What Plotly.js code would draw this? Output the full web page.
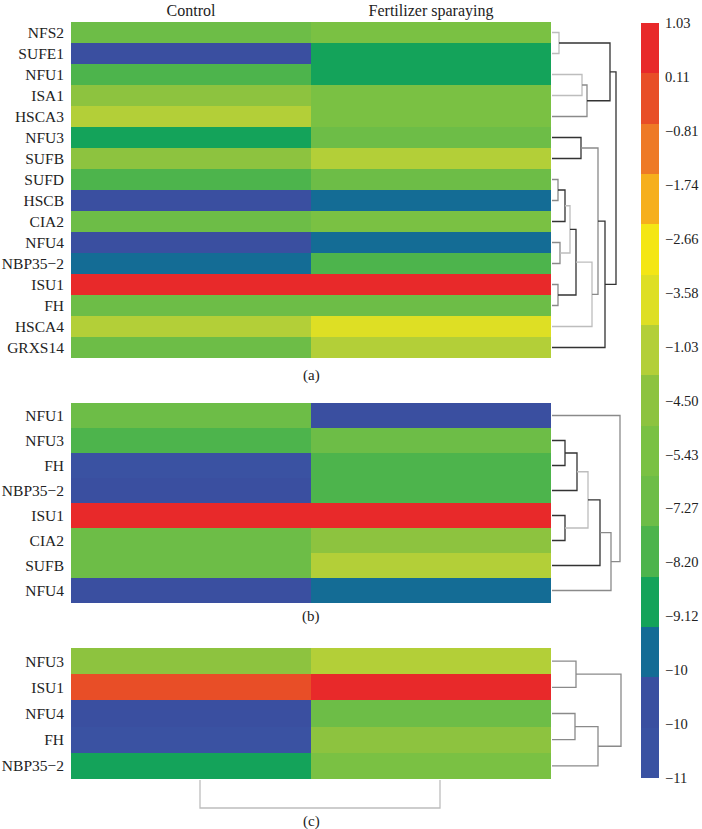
<!DOCTYPE html>
<html>
<head>
<meta charset="utf-8">
<script src="https://cdn.plot.ly/plotly-3.0.1.min.js"></script>
<style>html,body{margin:0;padding:0;background:#fff;}#chart{width:702px;height:829px;}</style>
</head>
<body>
<div id="chart"></div>
<script>
// ---------- DATA ----------
const columns = ['Control', 'Fertilizer sparaying'];

// colour level of each cell (0 = lowest band "−11", 14 = highest band "1.03")
const genesA = ['NFS2','SUFE1','NFU1','ISA1','HSCA3','NFU3','SUFB','SUFD','HSCB','CIA2','NFU4','NBP35−2','ISU1','FH','HSCA4','GRXS14'];
const controlA = [5, 1, 4, 7, 8, 3, 7, 4, 1, 5, 1, 2, 14, 5, 8, 5];
const fertA    = [6, 3, 3, 6, 6, 5, 8, 5, 2, 6, 2, 4, 14, 5, 9, 8];

const genesB = ['NFU1','NFU3','FH','NBP35−2','ISU1','CIA2','SUFB','NFU4'];
const controlB = [5, 4, 0, 1, 14, 5, 5, 1];
const fertB    = [1, 5, 4, 4, 14, 7, 8, 2];

const genesC = ['NFU3','ISU1','NFU4','FH','NBP35−2'];
const controlC = [7, 13, 1, 0, 3];
const fertC    = [8, 14, 5, 7, 6];

// dendrogram merges: [child1, child2, height, tone]; indices < n are leaves, n+k is merge k
const mergesA = [
  [0, 1, 7, 'l'],     // 16 NFS2+SUFE1
  [2, 3, 30, 'l'],    // 17 NFU1+ISA1
  [17, 4, 35, 'm'],   // 18 +HSCA3
  [16, 18, 58, 'd'],  // 19
  [5, 6, 29, 'd'],    // 20 NFU3+SUFB
  [7, 8, 6, 'm'],     // 21 SUFD+HSCB
  [21, 9, 13, 'd'],   // 22 +CIA2
  [10, 11, 8, 'm'],   // 23 NFU4+NBP35-2
  [22, 23, 18, 'l'],  // 24
  [12, 13, 6, 'm'],   // 25 ISU1+FH
  [24, 25, 24, 'd'],  // 26
  [26, 14, 40, 'l'],  // 27 +HSCA4
  [20, 27, 46, 'm'],  // 28
  [28, 15, 53, 'd'],  // 29 +GRXS14
  [19, 29, 64, 'd']   // 30 root
];
const mergesB = [
  [1, 2, 13, 'd'],    // 8 NFU3+FH
  [8, 3, 25, 'd'],    // 9 +NBP35-2
  [4, 5, 13, 'd'],    // 10 ISU1+CIA2
  [9, 10, 36, 'l'],   // 11
  [11, 6, 48, 'd'],   // 12 +SUFB
  [12, 7, 59, 'm'],   // 13 +NFU4
  [0, 13, 68, 'm']    // 14 root
];
const mergesC = [
  [0, 1, 24, 'm'],
  [2, 3, 23, 'm'],
  [6, 4, 46, 'm'],
  [5, 7, 69, 'm']
];
const mergesCol = [[0, 1, 28, 'l']];

// colour bar
const bandColors = ['#3A52A2','#3A4FA0','#146C95','#14A35A','#4DB44C','#6DBD47','#7AC143','#8DC33F','#B3CF38','#DEDF24','#F4E614','#F6AF1C','#EE7A26','#E84E27','#E8292A'];
const bandLabels = ['1.03','0.11','−0.81','−1.74','−2.66','−3.58','−1.03','−4.50','−5.43','−7.27','−8.20','−9.12','−10','−10','−11'];

// ---------- LAYOUT HELPERS ----------
const W = 702, H = 829;
const dx = (a, b) => [a / W, b / W];
const dy = (top, bottom) => [1 - bottom / H, 1 - top / H];
const FONT = 'Liberation Serif';
const tones = {d: '#333333', m: '#8a8a8a', l: '#bdbdbd'};

const nb = bandColors.length;
const colorscale = [];
bandColors.forEach((c, k) => { colorscale.push([k / nb, c]); colorscale.push([(k + 1) / nb, c]); });

function heat(ctrl, fert, xa, ya) {
  return {
    type: 'heatmap', x: [0, 1], y: ctrl.map((_, i) => i),
    z: ctrl.map((v, i) => [v, fert[i]]),
    zmin: -0.5, zmax: nb - 0.5, colorscale: colorscale, showscale: false,
    xaxis: xa, yaxis: ya, hoverinfo: 'skip'
  };
}

// dendrogram (height on one axis, leaves on the other)
function dendro(merges, n, xa, ya, vertical) {
  const nodes = [];
  for (let i = 0; i < n; i++) nodes.push({p: i, h: 0});
  const traces = [];
  merges.forEach(m => {
    const a = nodes[m[0]], b = nodes[m[1]], h = m[2];
    const hs = [a.h, h, h, b.h], ps = [a.p, a.p, b.p, b.p];
    traces.push({
      type: 'scatter', mode: 'lines',
      x: vertical ? ps : hs, y: vertical ? hs : ps,
      line: {color: tones[m[3]], width: 1.3},
      xaxis: xa, yaxis: ya, hoverinfo: 'skip', showlegend: false
    });
    nodes.push({p: (a.p + b.p) / 2, h: h});
  });
  return traces;
}

const data = [
  heat(controlA, fertA, 'x', 'y'),
  heat(controlB, fertB, 'x3', 'y3'),
  heat(controlC, fertC, 'x5', 'y5'),
  ...dendro(mergesA, genesA.length, 'x2', 'y', false),
  ...dendro(mergesB, genesB.length, 'x4', 'y3', false),
  ...dendro(mergesC, genesC.length, 'x6', 'y5', false),
  ...dendro(mergesCol, columns.length, 'x7', 'y7', true),
  {
    type: 'heatmap', x: [0], y: bandColors.map((_, i) => i),
    z: bandColors.map((_, i) => [i]), zmin: -0.5, zmax: nb - 0.5,
    colorscale: colorscale, showscale: false, xaxis: 'x8', yaxis: 'y8', hoverinfo: 'skip'
  }
];

const hidden = {showgrid: false, zeroline: false, showline: false, showticklabels: false, ticks: ''};
const heatX = (dom, anchor, show) => Object.assign({}, hidden, {
  domain: dom, anchor: anchor, range: [-0.5, 1.5], fixedrange: true,
  showticklabels: show, side: 'top', tickvals: [0, 1], ticktext: columns,
  tickfont: {family: FONT, size: 16, color: '#222'}, ticklabelstandoff: 2
});
const heatY = (dom, anchor, genes) => Object.assign({}, hidden, {
  domain: dom, anchor: anchor, range: [genes.length - 0.5, -0.5],
  showticklabels: true, tickvals: genes.map((_, i) => i), ticktext: genes,
  tickfont: {family: FONT, size: 15.5, color: '#222'}, ticklabelstandoff: 6
});
const dendX = (anchor) => Object.assign({}, hidden, {domain: dx(552, 632), anchor: anchor, range: [0, 80]});
const panelLabel = (t, xa, ypx) => ({
  text: t, xref: xa, x: 0.5, yref: 'paper', y: 1 - ypx / H, yanchor: 'middle', xanchor: 'center',
  showarrow: false, font: {family: FONT, size: 15, color: '#222'}
});

const layout = {
  width: W, height: H, margin: {l: 0, r: 0, t: 0, b: 0},
  paper_bgcolor: '#fff', plot_bgcolor: 'rgba(0,0,0,0)', showlegend: false,
  xaxis: heatX(dx(71, 551), 'y', true),
  yaxis: heatY(dy(22, 358), 'x', genesA),
  xaxis2: dendX('y'),
  xaxis3: heatX(dx(71, 551), 'y3', false),
  yaxis3: heatY(dy(403, 603), 'x3', genesB),
  xaxis4: dendX('y3'),
  xaxis5: heatX(dx(71, 551), 'y5', false),
  yaxis5: heatY(dy(648, 779), 'x5', genesC),
  xaxis6: dendX('y5'),
  xaxis7: Object.assign({}, hidden, {domain: dx(80, 560), anchor: 'y7', range: [-0.5, 1.5]}),
  yaxis7: Object.assign({}, hidden, {domain: dy(780, 810), anchor: 'x7', range: [30, 0]}),
  xaxis8: Object.assign({}, hidden, {domain: dx(641, 659), anchor: 'y8', range: [-0.5, 0.5]}),
  yaxis8: Object.assign({}, hidden, {
    domain: dy(23, 778), anchor: 'x8', range: [-0.5, nb - 0.5], side: 'right',
    showticklabels: true,
    tickvals: bandLabels.map((_, i) => (nb - 0.5) - i * nb / (bandLabels.length - 1)),
    ticktext: bandLabels, tickfont: {family: FONT, size: 14.5, color: '#222'}, ticklabelstandoff: 5
  }),
  annotations: [
    panelLabel('(a)', 'x', 375),
    panelLabel('(b)', 'x3', 616),
    panelLabel('(c)', 'x5', 821)
  ]
};

Plotly.newPlot('chart', data, layout, {staticPlot: true, displayModeBar: false});
</script>
</body>
</html>
